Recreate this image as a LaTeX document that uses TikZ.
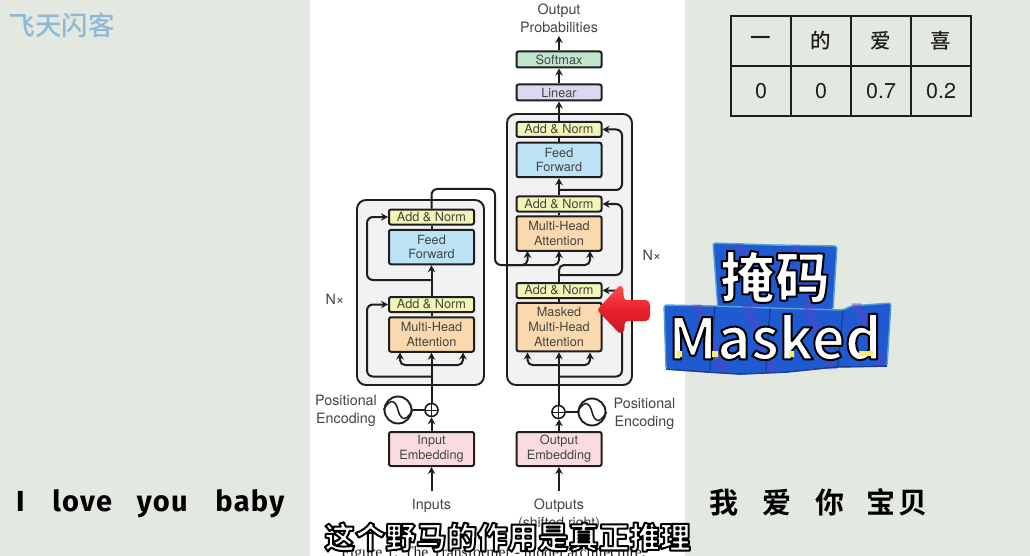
\documentclass[tikz,border=0pt]{standalone}
\usepackage{fontspec}
\usetikzlibrary{arrows.meta,calc}
\setmainfont{TeX Gyre Heros}
\newfontfamily\cjk{Noto Sans CJK SC}
\newfontfamily\cjkm{Noto Sans CJK SC Medium}
\newfontfamily\cjkb{Noto Sans CJK SC Bold}
\newfontfamily\cjkh{Noto Sans CJK SC Black}
\newfontfamily\capfont{Liberation Serif}
\newfontfamily\latinb[LetterSpace=4.5]{Fira Sans Bold}
\definecolor{pagebg}{HTML}{E3E8E1}
\definecolor{ink}{HTML}{1E1E1E}
\definecolor{lab}{HTML}{444444}
\definecolor{cnorm}{HTML}{F2F5B5}
\definecolor{cff}{HTML}{BBE2F5}
\definecolor{catt}{HTML}{FBD9AF}
\definecolor{cemb}{HTML}{FADBDF}
\definecolor{clin}{HTML}{D9D9F0}
\definecolor{csoft}{HTML}{C1E6CD}
\definecolor{cblock}{HTML}{F2F2F4}
\definecolor{logo}{HTML}{8DB9D6}
\definecolor{badge}{HTML}{1F5AD0}
\definecolor{badged}{HTML}{173F9E}
\definecolor{badgel}{HTML}{4FA6D6}
\definecolor{stripe}{HTML}{5A45C8}
\definecolor{feet}{HTML}{F6EE6A}
\definecolor{redarrow}{HTML}{E8202C}
\newcommand{\outl}[2]{\special{pdf:code q #1 w 0 0 0 RG 1 1 1 rg 2 Tr 1 j}#2\special{pdf:code 0 Tr Q}}
\tikzset{
 x=1pt,y=-1pt,
 blockbox/.style={draw=ink,line width=1.9pt,fill=cblock,rounded corners=9pt},
 unit/.style={draw=ink,line width=2pt,rounded corners=2pt,inner sep=0pt,minimum width=85pt,
   font=\fontsize{12.7}{14.8}\selectfont,text=lab,align=center},
 lab/.style={inner sep=0pt,font=\fontsize{14.3}{18}\selectfont,text=lab,align=center},
 wire/.style={draw=ink,line width=2pt,rounded corners=6pt},
 arr/.style={wire,-{Stealth[length=7pt,width=7.5pt]}},
 cell/.style={draw=ink,line width=2pt,minimum width=59.5pt,minimum height=50pt,inner sep=0pt,text=ink,
   font=\fontsize{21.5}{24}\selectfont},
 cjkcell/.style={cell,font=\cjkm\fontsize{20.5}{24}\selectfont},
 panel/.style={fill=badge,draw=badgel,line width=1.4pt,rounded corners=2.5pt},
 footmark/.style={fill=feet},
}
\begin{document}
\begin{tikzpicture}
\useasboundingbox (0,0) rectangle (1030,556);
\fill[pagebg] (0,0) rectangle (1030,556);
\fill[white] (310,0) rectangle (685,556);
% logo
\node[inner sep=0pt,text=logo,font=\cjkm\fontsize{26.5}{30}\selectfont] (logotext) at (62,25) {飞天闪客};
% blocks
\draw[blockbox] (357,200) rectangle (484,385);
\draw[blockbox] (507,114) rectangle (632,385);
% encoder units
\node[unit,fill=cnorm,minimum height=15pt] (ean2) at (431.5,217) {Add \& Norm};
\node[unit,fill=cff,minimum height=34.5pt] (eff) at (431.5,247) {Feed\\Forward};
\node[unit,fill=cnorm,minimum height=15pt] (ean1) at (431.5,304.5) {Add \& Norm};
\node[unit,fill=catt,minimum height=34.5pt] (emha) at (431.5,334.5) {Multi-Head\\Attention};
\node[unit,fill=cemb,minimum height=34pt] (einp) at (431.5,449) {Input\\Embedding};
% decoder units
\node[unit,fill=csoft,minimum height=16pt] (soft) at (559,59.5) {Softmax};
\node[unit,fill=clin,minimum height=16pt] (lin) at (559,92.5) {Linear};
\node[unit,fill=cnorm,minimum height=15pt] (dan3) at (559,129.5) {Add \& Norm};
\node[unit,fill=cff,minimum height=34.5pt] (dff) at (559,160) {Feed\\Forward};
\node[unit,fill=cnorm,minimum height=15pt] (dan2) at (559,204) {Add \& Norm};
\node[unit,fill=catt,minimum height=34.5pt] (dmha) at (559,233.5) {Multi-Head\\Attention};
\node[unit,fill=cnorm,minimum height=15pt] (dan1) at (559,290.5) {Add \& Norm};
\node[unit,fill=catt,minimum height=48.5pt] (dmask) at (559,327) {Masked\\Multi-Head\\Attention};
\node[unit,fill=cemb,minimum height=34pt] (doutp) at (559,449) {Output\\Embedding};
% plus + sine
\node[circle,draw=ink,line width=1.6pt,minimum size=13pt,inner sep=0pt] (eplus) at (431.5,410) {};
\draw[ink,line width=1pt] (eplus.north) -- (eplus.south) (eplus.west) -- (eplus.east);
\node[circle,draw=ink,line width=1.6pt,minimum size=13pt,inner sep=0pt] (dplus) at (558.5,412) {};
\draw[ink,line width=1pt] (dplus.north) -- (dplus.south) (dplus.west) -- (dplus.east);
\node[circle,draw=ink,line width=1.9pt,minimum size=27pt,inner sep=0pt] (esin) at (398,410) {};
\draw[ink,line width=1.5pt] (esin.west) .. controls (391,396) and (396,402) .. (398,410) .. controls (400,418) and (405,424) .. (esin.east);
\node[circle,draw=ink,line width=1.9pt,minimum size=27pt,inner sep=0pt] (dsin) at (592,412) {};
\draw[ink,line width=1.5pt] (dsin.west) .. controls (585,398) and (590,404) .. (592,412) .. controls (594,420) and (599,426) .. (dsin.east);
\draw[wire] (esin) -- (eplus);
\draw[wire] (dsin) -- (dplus);
% labels
\node[lab] (epos) at (346,411) {Positional\\Encoding};
\node[lab] (dpos) at (644.5,414) {Positional\\Encoding};
\node[lab] (enx) at (335,299) {N×};
\node[lab] (dnx) at (652,255) {N×};
\node[lab] (outprob) at (559,18) {Output\\Probabilities};
\node[lab] (inputs) at (431.5,506) {Inputs};
\node[lab] (outputs) at (559,506) {Outputs};
\node[lab,font=\fontsize{14}{15}\selectfont] (shift) at (559,524) {(shifted right)};
\node[inner sep=0pt,text=ink,font=\capfont\fontsize{15.8}{17}\selectfont] (caption) at (493.5,554) {Figure 1: The Transformer - model architecture.};
% coordinates
\coordinate (inend) at (431.5,491);
\coordinate (outend) at (559,491);
\coordinate (probend) at (559,36);
% main flow
\draw[arr] (inend) -- (einp.south);
\draw[arr] (outend) -- (doutp.south);
\draw[arr] (einp.north) -- (eplus.south);
\draw[arr] (doutp.north) -- (dplus.south -| doutp.north);
\draw[arr] (eplus.north) -- (emha.south);
\draw[arr] (dplus.north -| dmask.south) -- (dmask.south);
\draw[wire] (emha.north) -- (ean1.south);
\draw[wire] (eff.north) -- (ean2.south);
\draw[arr] (ean1.north) -- (eff.south);
\draw[wire] (dmask.north) -- (dan1.south);
\draw[wire] (dmha.north) -- (dan2.south);
\draw[wire] (dff.north) -- (dan3.south);
\draw[arr] (dan2.north) -- (dff.south);
\draw[arr] (dan3.north) -- (lin.south);
\draw[arr] (lin.north) -- (soft.south);
\draw[arr] (soft.north) -- (probend);
% attention inputs
\coordinate (ej1) at (431.5,365);
\draw[arr,rounded corners=5pt] (ej1) -- (400,365) -- (400,352.5);
\draw[arr,rounded corners=5pt] (ej1) -- (463,365) -- (463,352.5);
\coordinate (dj1) at (559,365);
\draw[arr,rounded corners=5pt] (dj1) -- (527.5,365) -- (527.5,352.5);
\draw[arr,rounded corners=5pt] (dj1) -- (590,365) -- (590,352.5);
% residuals
\coordinate (er1) at (431.5,376.5);
\draw[arr] (er1) -- (367,376.5) -- (367,304.5) -- (ean1.west);
\coordinate (er2) at (431.5,280);
\draw[arr] (er2) -- (367,280) -- (367,217) -- (ean2.west);
\coordinate (dr1) at (559,376.5);
\draw[arr] (dr1) -- (622,376.5) -- (622,290.5) -- (dan1.east);
\coordinate (dr2) at (559,275);
\draw[arr] (dr2) -- (622,275) -- (622,204) -- (dan2.east);
\coordinate (dr3) at (559,190);
\draw[arr] (dr3) -- (622,190) -- (622,129.5) -- (dan3.east);
% encoder to decoder
\coordinate (ex) at (505,265);
\draw[wire] (ean2.north) -- (431.5,189) -- (495,189) -- (495,265) -- (ex);
\draw[arr,rounded corners=5pt] (ex) -- (527.5,265) -- (527.5,251);
\draw[arr,rounded corners=5pt] (ex) -- (559,265) -- (559,251);
\draw[wire] (dan1.north) -- (dr2);
\draw[arr,rounded corners=5pt] (dr2) -- (559,265) -- (590,265) -- (590,251);
% table
\node[cjkcell] (t1) at (761,41) {一};
\node[cjkcell] (t2) at (821,41) {的};
\node[cjkcell] (t3) at (881,41) {爱};
\node[cjkcell] (t4) at (941,41) {喜};
\node[cell] (v1) at (761,91) {0};
\node[cell] (v2) at (821,91) {0};
\node[cell] (v3) at (881,91) {0.7};
\node[cell] (v4) at (941,91) {0.2};
% side texts
\node[inner sep=0pt,anchor=base west,text=black,font=\latinb\fontsize{29}{30}\selectfont] (sleft) at (16,511) {I\hspace{27.7pt}love\hspace{24.7pt}you\hspace{27.7pt}baby};
\node[inner sep=0pt,anchor=west,text=black,font=\cjkb\fontsize{29}{30}\selectfont] (sright) at (709,502) {我\hspace{24pt}爱\hspace{24pt}你\hspace{22pt}宝\hspace{3pt}贝};
% red arrow
\shade[top color=red!70!white,bottom color=redarrow!85!black,middle color=redarrow,rounded corners=2pt]
  (597,310) -- (620,285) -- (623,287) -- (624,300) -- (648,300) -- (650,304) -- (650,317) -- (648,321) -- (625,321) -- (624,332) -- (620,334) -- cycle;
% badge
\draw[panel] (713,243) -- (772,245) -- (837,246) -- (833,310) -- (718,310) -- cycle;
\begin{scope}
\clip (713,243) -- (837,246) -- (833,310) -- (718,310) -- cycle;
\foreach \dx in {735,790}
  \fill[stripe,opacity=.45] (\dx,240) -- (\dx+8,240) -- (\dx+28,312) -- (\dx+20,312) -- cycle;
\end{scope}
\draw[panel] (664,305) -- (715,306) -- (770,308) -- (843,310) -- (851,306) -- (891,303) -- (887,366) -- (835,367) -- (786,372) -- (740,374) -- (708,372) -- (666,369) -- cycle;
\begin{scope}
\clip (664,305) -- (891,303) -- (887,366) -- (786,372) -- (740,374) -- (666,369) -- cycle;
\foreach \dx in {690,740,800,850}
  \fill[stripe,opacity=.45] (\dx,300) -- (\dx+10,300) -- (\dx+40,376) -- (\dx+30,376) -- cycle;
\end{scope}
\draw[badged,line width=1.6pt] (715,307) -- (710,370) (770,309) -- (766,371) (843,311) -- (838,366) (666,369) -- (708,372) -- (740,374) -- (786,372) -- (835,367) -- (887,366);
\node[inner sep=0pt,font=\cjkh\fontsize{55}{60}\selectfont] (bad1) at (775,277) {\outl{2}{掩码}};
\node[inner sep=0pt,font=\cjkb\fontsize{57}{66}\selectfont] (bad2) at (775,337) {\outl{2}{Masked}};
% yellow feet of the badge letters
\fill[footmark] (677,351) rectangle (682,357) (712,351) rectangle (718,357) (789,351) rectangle (794,357) (859,351) rectangle (873,356);
% subtitle
\node[inner sep=0pt,font=\cjkh\fontsize{30.5}{34}\selectfont] (sub) at (507.5,537) {\outl{2}{这个野马的作用是真正推理}};
\end{tikzpicture}
\end{document}
